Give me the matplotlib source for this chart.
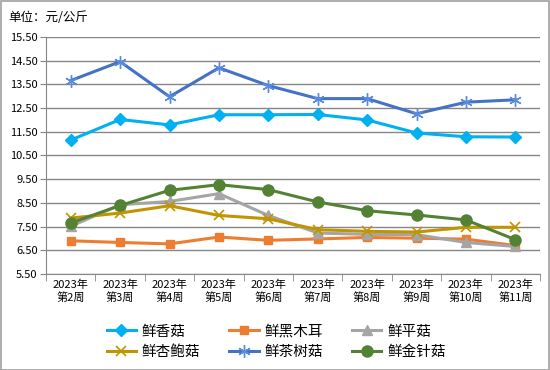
import matplotlib
matplotlib.use('Agg')
import matplotlib.pyplot as plt
from matplotlib.patches import Rectangle

plt.rcParams['font.family'] = ['Noto Sans CJK SC', 'DejaVu Sans']

weeks = ['2023年\n第2周', '2023年\n第3周', '2023年\n第4周', '2023年\n第5周', '2023年\n第6周',
         '2023年\n第7周', '2023年\n第8周', '2023年\n第9周', '2023年\n第10周', '2023年\n第11周']

xianggu   = [11.15, 12.02, 11.79, 12.22, 12.22, 12.23, 12.00, 11.45, 11.29, 11.28]
heimuer   = [6.90, 6.83, 6.77, 7.06, 6.92, 6.98, 7.04, 7.01, 6.97, 6.70]
pinggu    = [7.51, 8.42, 8.56, 8.89, 7.97, 7.23, 7.17, 7.16, 6.83, 6.66]
xingbaogu = [7.86, 8.07, 8.38, 7.97, 7.83, 7.37, 7.30, 7.27, 7.47, 7.47]
chashugu  = [13.66, 14.46, 12.98, 14.20, 13.45, 12.90, 12.90, 12.26, 12.75, 12.85]
jinzhengu = [7.65, 8.39, 9.03, 9.27, 9.06, 8.54, 8.17, 7.99, 7.78, 6.95]

yticks = [5.5, 6.5, 7.5, 8.5, 9.5, 10.5, 11.5, 12.5, 13.5, 14.5, 15.5]

fig = plt.figure(figsize=(5.5, 3.7), dpi=100)
ax = fig.add_axes([0.0836, 0.2595, 0.8984, 0.6405])

x = list(range(len(weeks)))
lw = 2.2
ax.plot(x, xianggu, color='#00B0F0', lw=lw, marker='D', ms=6.5, label='鲜香菇', zorder=3)
ax.plot(x, heimuer, color='#ED7D31', lw=lw, marker='s', ms=6, label='鲜黑木耳', zorder=3)
ax.plot(x, pinggu, color='#A5A5A5', lw=lw, marker='^', ms=7, label='鲜平菇', zorder=3)
ax.plot(x, xingbaogu, color='#C09500', lw=lw, marker='x', ms=7, mew=1.2, label='鲜杏鲍菇', zorder=3)
ax.plot(x, chashugu, color='#4472C4', lw=lw, marker=(6, 2, 0), ms=9, mew=1.0,
        mec='#5B8BDB', label='鲜茶树菇', zorder=3)
ax.plot(x, jinzhengu, color='#548235', lw=lw, marker='o', ms=8, label='鲜金针菇', zorder=4)

ax.set_xlim(-0.5, len(weeks) - 0.5)
ax.set_ylim(5.5, 15.5)
ax.set_yticks(yticks)
ax.set_yticklabels([f'{v:.2f}' for v in yticks], fontsize=8)
ax.set_xticks(x)
ax.set_xticklabels(weeks, fontsize=8, linespacing=1.2)
ax.tick_params(axis='x', length=0, pad=4)
ax.set_xticks([i - 0.5 for i in range(len(weeks) + 1)], minor=True)
ax.tick_params(axis='x', which='minor', length=5, color='#868686')
ax.tick_params(axis='y', length=4, color='#868686', pad=2)

ax.grid(axis='y', color='#868686', lw=1)
ax.set_axisbelow(True)
for s in ['top', 'right']:
    ax.spines[s].set_visible(False)
for s in ['left', 'bottom']:
    ax.spines[s].set_color('#868686')

fig.text(0.015, 0.952, '单位：元/公斤', fontsize=9, va='center')

# row-major order for the 3-column legend
handles, labels = ax.get_legend_handles_labels()
order = [0, 3, 1, 4, 2, 5]
fig.legend([handles[i] for i in order], [labels[i] for i in order],
           loc='center', bbox_to_anchor=(0.502, 0.076), ncol=3, frameon=False,
           fontsize=10.5, handlelength=2.0, columnspacing=2.0, labelspacing=0.45,
           handletextpad=0.4, borderpad=0.2)

fig.patches.append(Rectangle((0.001, 0.001), 0.997, 0.996, transform=fig.transFigure,
                             fill=False, edgecolor='#A0A0A0', lw=1.2))

fig.savefig('out.png', dpi=100)
